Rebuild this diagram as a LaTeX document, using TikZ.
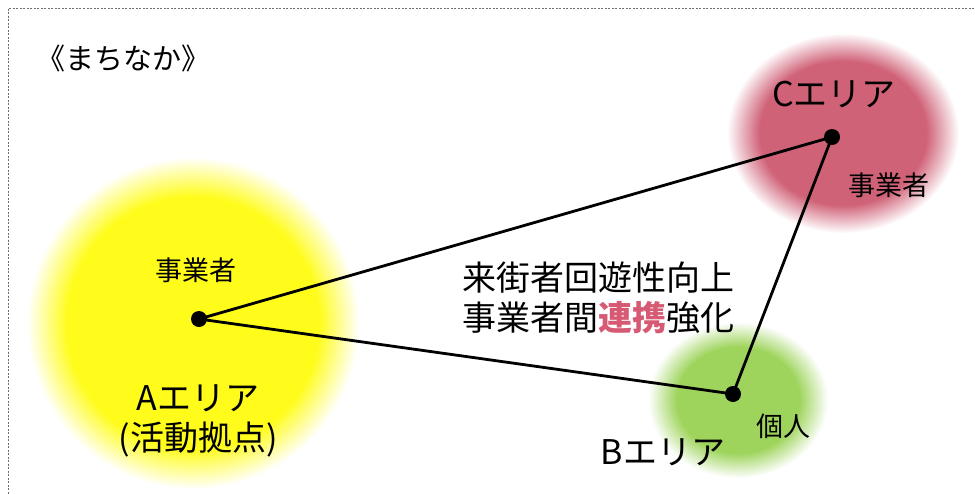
\documentclass[tikz,border=0pt]{standalone}
\usepackage{fontspec}
\setmainfont{Noto Sans CJK JP}
\definecolor{yel}{RGB}{255,252,28}
\definecolor{redc}{RGB}{208,98,120}
\definecolor{grn}{RGB}{158,212,92}
\definecolor{pinkt}{RGB}{214,90,115}
\definecolor{frame}{RGB}{110,110,110}
\pgfdeclareradialshading{blobY}{\pgfpoint{0bp}{0bp}}{color(0bp)=(yel); color(19bp)=(yel); color(25bp)=(white); color(50bp)=(white)}
\pgfdeclareradialshading{blobR}{\pgfpoint{0bp}{0bp}}{color(0bp)=(redc); color(18bp)=(redc); color(25bp)=(white); color(50bp)=(white)}
\pgfdeclareradialshading{blobG}{\pgfpoint{0bp}{0bp}}{color(0bp)=(grn); color(17bp)=(grn); color(25bp)=(white); color(50bp)=(white)}
\tikzset{
  big/.style={font=\fontsize{34}{40}\selectfont, inner sep=0pt, align=center},
  small/.style={font=\fontsize{27}{32}\selectfont, inner sep=0pt},
  dot/.style={circle, fill=black, inner sep=0pt, minimum size=16pt},
  link/.style={line width=2.8pt, black},
}
\begin{document}
\begin{tikzpicture}[x=1pt,y=-1pt]
\useasboundingbox (0,0) rectangle (975,493);
\clip (0,0) rectangle (975,493);
\fill[white] (0,0) rectangle (975,493);
\draw[frame, dashed, dash pattern=on 2pt off 1.5pt, line width=0.8pt] (8.5,8.5) rectangle (1000,520);
% blobs
\shade[shading=blobY] (193,323) ellipse [x radius=166, y radius=166];
\shade[shading=blobR] (843,133) ellipse [x radius=116, y radius=100];
\shade[shading=blobG] (738,400) ellipse [x radius=90, y radius=78];
% title
\node[small, font=\fontsize{29}{34}\selectfont] (title) at (123,58) {《まちなか》};
% dots
\node[dot] (A) at (199,319) {};
\node[dot] (C) at (832,137) {};
\node[dot] (B) at (733,394) {};
\draw[link] (A.center) -- (C.center) -- (B.center) -- (A.center);
% labels
\node[small] (aop) at (196,270) {事業者};
\node[big] (aname) at (198,398) {Aエリア};
\node[big] (asub) at (198,440) {(活動拠点)};
\node[big] (cname) at (834,94) {Cエリア};
\node[small] (cop) at (889,185) {事業者};
\node[big] (bname) at (663,452) {Bエリア};
\node[small] (bop) at (783,426) {個人};
\node[big] (mid1) at (598,278) {来街者回遊性向上};
\node[big] (mid2) at (598,318) {事業者間\textcolor{pinkt}{\bfseries 連携}強化};
\end{tikzpicture}
\end{document}
